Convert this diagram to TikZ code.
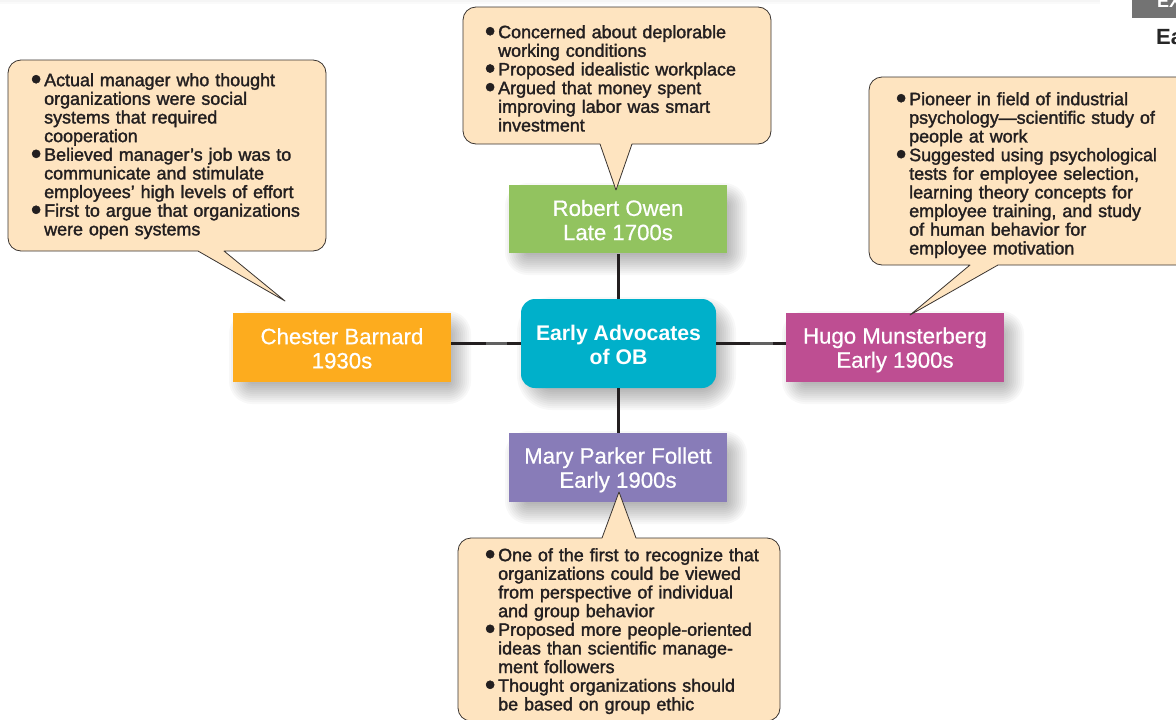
\documentclass[tikz,border=0pt]{standalone}
\usepackage{fontspec}
\setmainfont{Liberation Sans}
\newfontfamily\medfont[FakeBold=1.7]{Liberation Sans}
\newfontfamily\lightmed[FakeBold=0.6]{Liberation Sans}
\definecolor{calloutfill}{HTML}{FEE4C0}
\definecolor{calloutline}{HTML}{3A3430}
\definecolor{ctext}{HTML}{231F20}
\definecolor{boxgreen}{HTML}{92C35F}
\definecolor{boxorange}{HTML}{FDAC1E}
\definecolor{boxteal}{HTML}{00B0CA}
\definecolor{boxmagenta}{HTML}{BE4E92}
\definecolor{boxpurple}{HTML}{887CB8}
\definecolor{linecol}{HTML}{231F20}
\newcommand{\softshadow}[5]{%
  \foreach \g in {12,10,8,6,4,2,0,-2,-4,-6,-8}{
    \fill[black,opacity=0.026,rounded corners=#5+\g*1pt+9pt]
      (#1-\g+8,#2-\g+10) rectangle (#3+\g+8,#4+\g+10);
  }}
\newcommand{\bul}{\leavevmode\llap{\raisebox{-3pt}[0pt][0pt]{\fontsize{30}{17}\selectfont •}\hspace{2.8pt}}}
\newcommand{\bst}{\rule{0pt}{20.9pt}}
\newcommand{\bsb}{\rule[-3.3pt]{0pt}{0pt}}
\newcommand{\hst}{\rule{0pt}{20pt}}
\newcommand{\hsb}{\rule[-1.7pt]{0pt}{0pt}}
\tikzset{
  x=1pt,y=-1pt,
  advocate/.style={draw=none,minimum width=218pt,minimum height=68.5pt,inner sep=0pt,text=white,
    align=center,font=\lightmed\fontsize{22.2}{24.2}\selectfont},
  hub/.style={fill=boxteal,rounded corners=14pt,minimum width=195pt,minimum height=89pt,inner sep=0pt,text=white,
    align=center,font=\fontsize{21.2}{24}\selectfont\bfseries},
  ctxt/.style={anchor=north west,inner sep=0pt,align=left,text=ctext,text width=300pt,
    font=\medfont\fontsize{17.9}{18.65}\selectfont},
  callout/.style={draw=calloutline,fill=calloutfill,line width=0.8pt,line join=round},
  connector/.style={draw=linecol,line width=2.4pt},
  connectorlight/.style={draw=black!62,line width=2.4pt}
}
\begin{document}
\begin{tikzpicture}
\clip (0,0) rectangle (1176,720);
\fill[white] (0,0) rectangle (1176,720);
% page remnants
\fill[black!4] (0,0) rectangle (1100,1.5);
\fill[black!2] (0,1.5) rectangle (1100,4);
\fill[black!55] (1132,0) rectangle (1176,18);
\node[anchor=base west,inner sep=0pt,text=white,font=\fontsize{18}{18}\selectfont\bfseries] (exlabel) at (1157,8) {EX};
\node[anchor=base west,inner sep=0pt,text=black!85,font=\fontsize{22}{22}\selectfont\bfseries] (ealabel) at (1156,44.5) {Ea};
% shadows
\softshadow{509}{185}{727}{253}{2pt}
\softshadow{233}{313}{451}{382}{2pt}
\softshadow{786}{313}{1004}{382}{2pt}
\softshadow{509}{433}{727}{502}{2pt}
\softshadow{521}{299}{716}{388}{14pt}
% nodes
\node[advocate,fill=boxgreen] (owen) at (618,219.2) {\bst Robert Owen\\Late 1700s\bsb};
\node[advocate,fill=boxorange] (barnard) at (342,347.5) {\bst Chester Barnard\\1930s\bsb};
\node[advocate,fill=boxmagenta] (munster) at (895,347.5) {\bst Hugo Munsterberg\\Early 1900s\bsb};
\node[advocate,fill=boxpurple] (follett) at (618,467.5) {\bst Mary Parker Follett\\Early 1900s\bsb};
\node[hub] (hub) at (618.5,343.5) {\hst Early Advocates\\of OB\hsb};
% connectors
\draw[connector] (hub) -- (hub |- owen.south);
\draw[connector] (hub) -- (hub |- follett.north);
\draw[connector] (hub.west) -- (hub.west -| barnard.east);
\draw[connector] (hub.east) -- (hub.east -| munster.west);
\coordinate (la) at (486,343.5);
\coordinate (lb) at (507,343.5);
\coordinate (ra) at (750,343.5);
\coordinate (rb) at (773,343.5);
\draw[connectorlight] (la) -- (lb);
\draw[connectorlight] (ra) -- (rb);
% callouts
\draw[callout,rounded corners=13pt] (600,144) -- (463,144) -- (463,7) -- (771,7) -- (771,144) -- (700,144)
  [sharp corners] -- (632,144) -- (616,190) -- cycle;
\draw[callout,rounded corners=13pt] (198,251) -- (8,251) -- (8,60) -- (326,60) -- (326,251) -- (290,251)
  [sharp corners] -- (224,251) -- (285,301) -- cycle;
\draw[callout,rounded corners=13pt] (970,265) -- (869,265) -- (869,77) -- (1190,77) -- (1190,265) -- (1060,265)
  [sharp corners] -- (998,265) -- (910,315) -- cycle;
\draw[callout,rounded corners=13pt] (602,538) -- (458,538) -- (458,721) -- (780,721) -- (780,538) -- (720,538)
  [sharp corners] -- (636,538) -- (619,492) -- cycle;
% callout texts
\node[ctxt] (ttop) at (498,25) {\bul Concerned about deplorable\\working conditions\\\bul Proposed idealistic workplace\\\bul Argued that money spent\\improving labor was smart\\investment};
\node[ctxt] (tleft) at (44,73) {\bul Actual manager who thought\\organizations were social\\systems that required\\cooperation\\\bul Believed manager’s job was to\\communicate and stimulate\\employees’ high levels of effort\\\bul First to argue that organizations\\were open systems};
\node[ctxt] (tright) at (909,92) {\bul Pioneer in field of industrial\\psychology—scientific study of\\people at work\\\bul Suggested using psychological\\tests for employee selection,\\learning theory concepts for\\employee training, and study\\of human behavior for\\employee motivation};
\node[ctxt] (tbottom) at (498,548) {\bul One of the first to recognize that\\organizations could be viewed\\from perspective of individual\\and group behavior\\\bul Proposed more people-oriented\\ideas than scientific manage-\\ment followers\\\bul Thought organizations should\\be based on group ethic};
\end{tikzpicture}
\end{document}
